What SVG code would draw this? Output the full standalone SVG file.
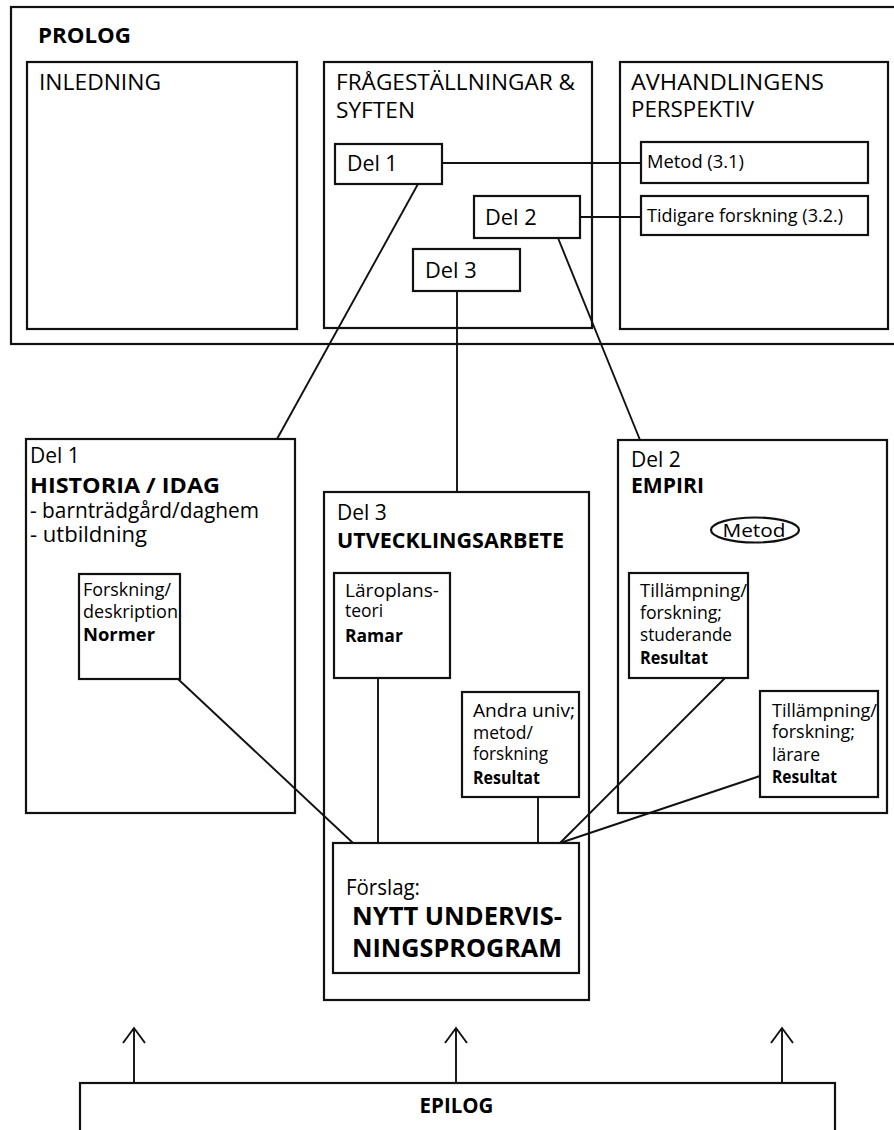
<svg xmlns="http://www.w3.org/2000/svg" width="894" height="1130" viewBox="0 0 894 1130">
  <style>
    text { font-family: "Open Sans", "Liberation Sans", sans-serif; fill: #000; }
    .box { fill: none; stroke: #111; stroke-width: 2.2; }
    .wbox { fill: #fff; stroke: #111; stroke-width: 2.2; }
    .link { fill: none; stroke: #111; stroke-width: 1.9; }
    .b { font-weight: bold; }
    .h { font-size: 22.7px; }
    .m { font-size: 21px; }
    .s { font-size: 18px; }
    .xs { font-size: 17.5px; }
  </style>
  <defs>
    <path id="up" d="M -11 1043 L 0 1028 L 11 1043 M 0 1028 L 0 1083" class="link"/>
  </defs>

  <!-- Prolog frame and its three columns -->
  <g id="prolog">
    <rect class="box" x="11" y="7" width="900" height="337"/>
    <text class="b" x="38" y="43" font-size="21.5" textLength="93" lengthAdjust="spacingAndGlyphs">PROLOG</text>
  </g>
  <g id="inledning">
    <rect class="box" x="27" y="62" width="270" height="267"/>
    <text class="h" x="39" y="90" textLength="122" lengthAdjust="spacingAndGlyphs">INLEDNING</text>
  </g>
  <g id="fragestallningar">
    <rect class="box" x="324" y="62" width="268" height="266"/>
    <text class="h" x="336" y="90" textLength="239" lengthAdjust="spacingAndGlyphs">FRÅGESTÄLLNINGAR &amp;</text>
    <text class="h" x="336" y="118">SYFTEN</text>
  </g>
  <g id="perspektiv">
    <rect class="box" x="620" y="62" width="268" height="267"/>
    <text class="h" x="631" y="90" textLength="193" lengthAdjust="spacingAndGlyphs">AVHANDLINGENS</text>
    <text class="h" x="631" y="117" textLength="123" lengthAdjust="spacingAndGlyphs">PERSPEKTIV</text>
  </g>

  <!-- Question boxes -->
  <g id="q-del1">
    <rect class="wbox" x="335" y="144" width="107" height="40"/>
    <text x="347" y="171" font-size="21.3">Del 1</text>
  </g>
  <g id="q-del2">
    <rect class="wbox" x="474" y="196" width="106" height="42"/>
    <text x="485" y="225" font-size="21.8">Del 2</text>
  </g>
  <g id="q-del3">
    <rect class="wbox" x="413" y="249" width="107" height="42"/>
    <text x="425" y="278" font-size="21.8">Del 3</text>
  </g>
  <g id="metod-31">
    <rect class="wbox" x="641" y="142" width="227" height="41"/>
    <text class="s" x="647" y="168" textLength="97" lengthAdjust="spacingAndGlyphs">Metod (3.1)</text>
  </g>
  <g id="tidigare">
    <rect class="wbox" x="641" y="196" width="227" height="39"/>
    <text class="s" x="647" y="222" textLength="196" lengthAdjust="spacingAndGlyphs">Tidigare forskning (3.2.)</text>
  </g>

  <!-- Del 1: history -->
  <g id="del1">
    <rect class="box" x="26" y="439" width="269" height="374"/>
    <text class="m" x="30" y="463">Del 1</text>
    <text class="m b" x="30" y="493" textLength="190" lengthAdjust="spacingAndGlyphs">HISTORIA / IDAG</text>
    <text class="m" x="30" y="518" textLength="229" lengthAdjust="spacingAndGlyphs">- barnträdgård/daghem</text>
    <text class="m" x="30" y="542" textLength="117" lengthAdjust="spacingAndGlyphs">- utbildning</text>
  </g>
  <g id="normer">
    <rect class="box" x="79" y="574" width="101" height="105"/>
    <text class="xs" x="83" y="596" textLength="88" lengthAdjust="spacingAndGlyphs">Forskning/</text>
    <text class="xs" x="83" y="618" textLength="95" lengthAdjust="spacingAndGlyphs">deskription</text>
    <text class="xs b" x="83" y="641" textLength="72" lengthAdjust="spacingAndGlyphs">Normer</text>
  </g>

  <!-- Del 3: development work -->
  <g id="del3">
    <rect class="box" x="324" y="492" width="265" height="508"/>
    <text class="m" x="337" y="520" font-size="20.6">Del 3</text>
    <text class="m b" x="337" y="548" textLength="227" lengthAdjust="spacingAndGlyphs">UTVECKLINGSARBETE</text>
  </g>
  <g id="ramar">
    <rect class="box" x="334" y="573" width="116" height="105"/>
    <text class="xs" x="345" y="597" textLength="94" lengthAdjust="spacingAndGlyphs">Läroplans-</text>
    <text class="xs" x="345" y="617">teori</text>
    <text class="xs b" x="345" y="642">Ramar</text>
  </g>
  <g id="andra-univ">
    <rect class="box" x="462" y="692" width="117" height="105"/>
    <text class="xs" x="473" y="717" textLength="102" lengthAdjust="spacingAndGlyphs">Andra univ;</text>
    <text class="xs" x="473" y="739">metod/</text>
    <text class="xs" x="473" y="760" textLength="75" lengthAdjust="spacingAndGlyphs">forskning</text>
    <text class="xs b" x="473" y="784" textLength="67" lengthAdjust="spacingAndGlyphs">Resultat</text>
  </g>
  <g id="forslag">
    <rect class="box" x="333" y="843" width="246" height="130"/>
    <text class="m" x="346" y="895" textLength="74" lengthAdjust="spacingAndGlyphs">Förslag:</text>
    <text class="b" x="352" y="925" font-size="25" textLength="210" lengthAdjust="spacingAndGlyphs">NYTT UNDERVIS-</text>
    <text class="b" x="352" y="957" font-size="25" textLength="210" lengthAdjust="spacingAndGlyphs">NINGSPROGRAM</text>
  </g>

  <!-- Del 2: empirical part -->
  <g id="del2">
    <rect class="box" x="618" y="440" width="269" height="373"/>
    <text class="m" x="631" y="467" font-size="21.8">Del 2</text>
    <text class="m b" x="631" y="493" textLength="73" lengthAdjust="spacingAndGlyphs">EMPIRI</text>
  </g>
  <g id="metod">
    <ellipse class="box" cx="755" cy="530" rx="44" ry="12.5"/>
    <text x="754" y="536.5" font-size="17.5" text-anchor="middle" textLength="63" lengthAdjust="spacingAndGlyphs">Metod</text>
  </g>
  <g id="studerande">
    <rect class="box" x="629" y="573" width="119" height="105"/>
    <text class="xs" x="640" y="597" textLength="107" lengthAdjust="spacingAndGlyphs">Tillämpning/</text>
    <text class="xs" x="640" y="619" textLength="82" lengthAdjust="spacingAndGlyphs">forskning;</text>
    <text class="xs" x="640" y="641" textLength="92" lengthAdjust="spacingAndGlyphs">studerande</text>
    <text class="xs b" x="640" y="664" textLength="68" lengthAdjust="spacingAndGlyphs">Resultat</text>
  </g>
  <g id="larare">
    <rect class="box" x="760" y="691" width="118" height="106"/>
    <text class="xs" x="772" y="717" textLength="105" lengthAdjust="spacingAndGlyphs">Tillämpning/</text>
    <text class="xs" x="772" y="738" textLength="83" lengthAdjust="spacingAndGlyphs">forskning;</text>
    <text class="xs" x="772" y="761">lärare</text>
    <text class="xs b" x="772" y="783" textLength="65" lengthAdjust="spacingAndGlyphs">Resultat</text>
  </g>

  <!-- Epilog -->
  <g id="epilog">
    <rect class="box" x="80" y="1083" width="755" height="70"/>
    <text class="b" x="456.5" y="1113" font-size="20.5" text-anchor="middle">EPILOG</text>
  </g>

  <!-- Connectors -->
  <g id="connectors">
    <line class="link" x1="442" y1="163" x2="641" y2="163"/>
    <line class="link" x1="580" y1="217" x2="641" y2="217"/>
    <line class="link" x1="418" y1="184" x2="277" y2="439"/>
    <line class="link" x1="558" y1="238" x2="640" y2="440"/>
    <line class="link" x1="457" y1="291" x2="457" y2="492"/>
    <line class="link" x1="178" y1="679" x2="353" y2="843"/>
    <line class="link" x1="378" y1="678" x2="378" y2="843"/>
    <line class="link" x1="538" y1="797" x2="538" y2="843"/>
    <line class="link" x1="725" y1="678" x2="560" y2="843"/>
    <line class="link" x1="760" y1="776" x2="560" y2="843"/>
    <use href="#up" x="134"/>
    <use href="#up" x="456"/>
    <use href="#up" x="782"/>
  </g>
</svg>
